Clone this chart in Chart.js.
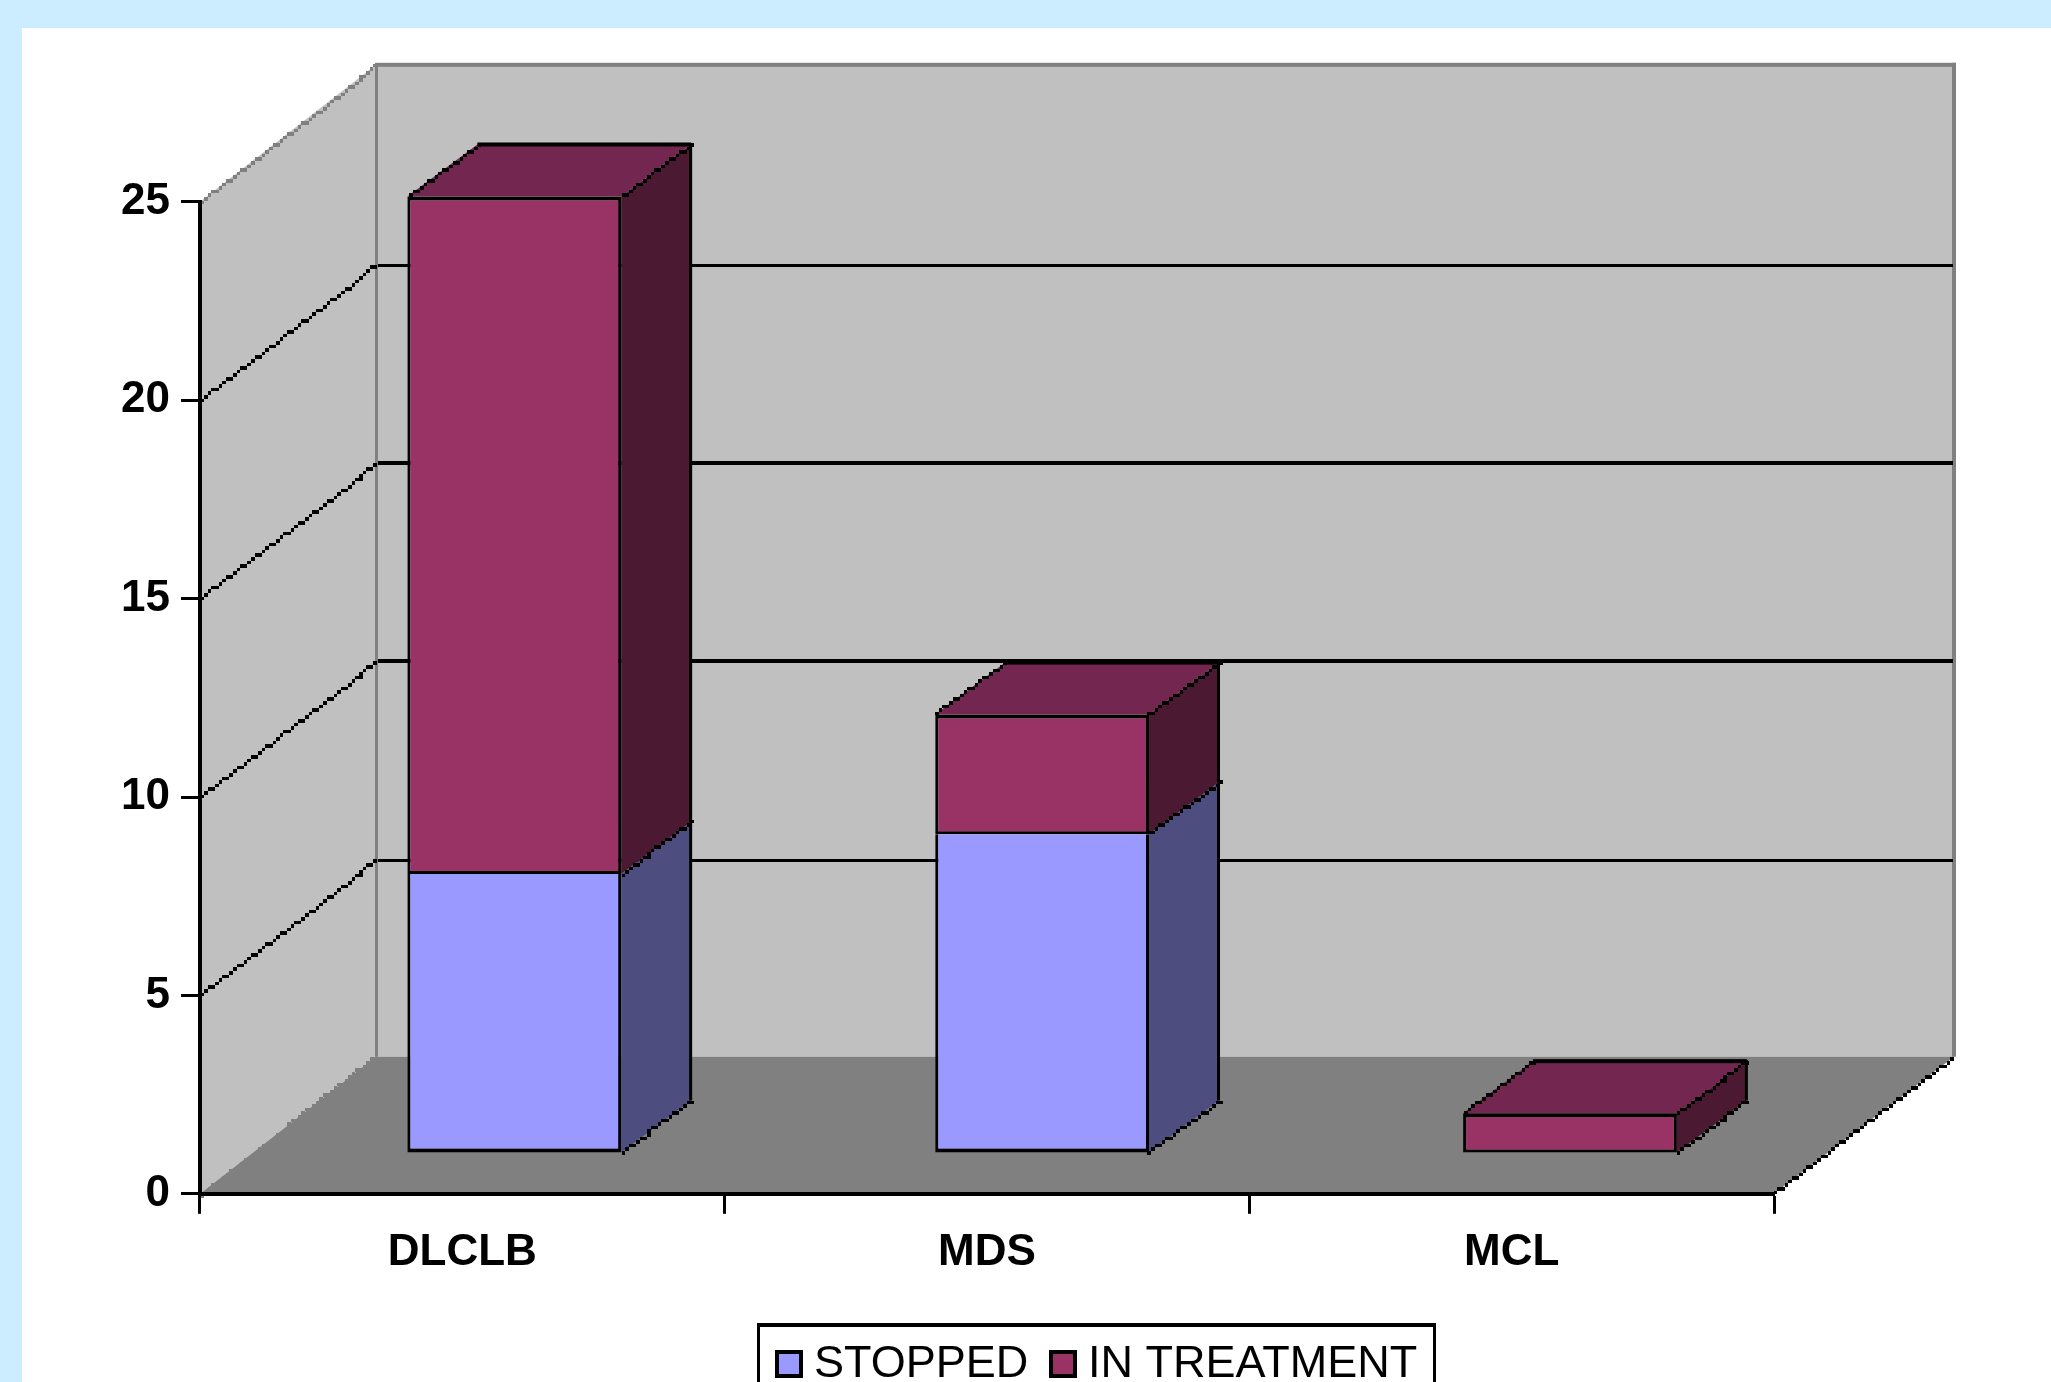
<!DOCTYPE html>
<html>
<head>
<meta charset="utf-8">
<title>Patients by diagnosis</title>
<style>
  html, body { margin: 0; padding: 0; background: #CCECFF; }
  canvas { display: block; }
</style>
<script src="https://cdn.jsdelivr.net/npm/chart.js@4/dist/chart.umd.min.js"></script>
</head>
<body>
<canvas id="chart" width="2051" height="1382"></canvas>
<script>
// Patient counts per diagnosis, stacked by treatment status.
const categories = ['DLCLB', 'MDS', 'MCL'];
const stopped = [7, 8, 0];
const inTreatment = [17, 3, 1];
const seriesNames = ['STOPPED', 'IN TREATMENT'];
const axisMax = 25;
const axisStep = 5;

const FONT = '"Liberation Sans", Arial, sans-serif';
const BLUE = '#9999FF', PLUM = '#993366';
const SIDE = { [BLUE]: '#4D4D80', [PLUM]: '#4C1933' };
const TOP_FACE = '#732650';
const WALL = '#C0C0C0', FLOOR = '#808080', EDGE = '#808080';

// Projection of the box: the back wall sits up and to the right of the front plane.
const WALL_DX = 176, WALL_DY = -137, GRID_DY = -136;
// The bars stand in a plane inside the box, mapped from the front plane.
const BAR_SX = 1.0061, BAR_TX = 49.1;
const BAR_SY = 1.0044, BAR_TY = 1153 - 1.0044 * 1193.8;
const BOX_DX = 70, BOX_DY = -52;
const CELL = 3.6;
const planeX = x => BAR_SX * x + BAR_TX;
const planeY = y => BAR_SY * y + BAR_TY;

// Draws a diagonal as a one-cell-wide pixel staircase.
function stair(ctx, x0, y0, x1, y1, color) {
  const dx = x1 - x0, dy = y1 - y0;
  const n = Math.ceil(Math.max(Math.abs(dx), Math.abs(dy)) / CELL);
  ctx.fillStyle = color;
  for (let i = 0; i <= n; i++) {
    const cx = Math.round((x0 + dx * i / n) / CELL);
    const cy = Math.round((y0 + dy * i / n) / CELL);
    const gx = Math.round(cx * CELL), gy = Math.round(cy * CELL);
    ctx.fillRect(gx - 1, gy - 1, Math.round((cx + 1) * CELL) - gx, Math.round((cy + 1) * CELL) - gy);
  }
}

function poly(ctx, pts, color) {
  ctx.beginPath();
  pts.forEach((p, i) => i ? ctx.lineTo(p[0], p[1]) : ctx.moveTo(p[0], p[1]));
  ctx.closePath();
  ctx.fillStyle = color;
  ctx.fill();
}

const box3d = {
  id: 'box3d',
  beforeDraw(chart) {
    const { ctx, chartArea: a, scales: { y } } = chart;
    const backL = a.left + WALL_DX, backR = a.right + 180;
    const backT = y.getPixelForValue(axisMax) + WALL_DY;
    const backB = a.bottom + WALL_DY;
    ctx.save();
    ctx.fillStyle = '#CCECFF';
    ctx.fillRect(0, 0, chart.width, chart.height);
    ctx.fillStyle = '#FFFFFF';
    ctx.fillRect(22, 28, chart.width - 22, chart.height - 28);

    // Back wall, side wall, floor
    ctx.fillStyle = WALL;
    ctx.fillRect(backL, backT, backR - backL, backB - backT);
    poly(ctx, [[a.left, a.bottom], [a.left, a.top], [backL, backT], [backL, backB]], WALL);
    poly(ctx, [[a.left, a.bottom], [a.right, a.bottom], [backR, backB], [backL, backB]], FLOOR);
    stair(ctx, a.left, a.bottom, backL, backB, FLOOR);

    // Wall outline
    ctx.fillStyle = EDGE;
    ctx.fillRect(backL - 1, backT - 2, backR - backL + 3, 4);
    ctx.fillRect(backR - 2, backT - 2, 4, backB - backT + 2);
    ctx.fillRect(backL - 1, backT, 3, backB - backT);
    stair(ctx, a.left + 2, a.top - 1, backL, backT + 1, EDGE);

    // Gridlines across both walls, placed from the value axis
    y.ticks.forEach(t => {
      if (t.value === 0 || t.value === axisMax) return;
      const fy = y.getPixelForValue(t.value);
      const by = Math.round(fy + GRID_DY);
      const heavy = t.value === 10 || t.value === 15;
      stair(ctx, a.left + 2, fy - 2, backL, by + 1, '#000000');
      ctx.fillStyle = '#000000';
      ctx.fillRect(backL + 2, by - (heavy ? 2 : 0), backR - backL - 3, heavy ? 4 : 3);
    });
    stair(ctx, a.right + 2, a.bottom - 2, backR - 2, backB + 2, '#000000');
    ctx.restore();
  },
  beforeDatasetsDraw(chart) {
    const { ctx } = chart;
    const metas = chart.getSortedVisibleDatasetMetas();
    ctx.save();
    metas.forEach((meta, d) => {
      const color = chart.data.datasets[meta.index].backgroundColor;
      meta.data.forEach(el => {
        if (Math.abs(el.base - el.y) < 1) return;
        const l = planeX(el.x - el.width / 2);
        const r = planeX(el.x + el.width / 2);
        const t = planeY(el.y), b = planeY(el.base);
        const xb = r + BOX_DX;
        // Right-hand face
        poly(ctx, [[r, t], [xb, t + BOX_DY], [xb, b + BOX_DY], [r, b]], SIDE[color]);
        ctx.fillStyle = '#000000';
        ctx.fillRect(xb - 2, t + BOX_DY - 1, 3, b - t + 1);
        stair(ctx, r + 1, b - 1, xb, b + BOX_DY, '#000000');
        // Top face closes the column on the last stacked series
        if (d === metas.length - 1) {
          poly(ctx, [[l, t], [r, t], [xb, t + BOX_DY], [l + BOX_DX, t + BOX_DY]], TOP_FACE);
          ctx.fillStyle = '#000000';
          ctx.fillRect(l + BOX_DX, t + BOX_DY - 2, xb - l - BOX_DX, 4);
          stair(ctx, l + 2, t - 2, l + BOX_DX, t + BOX_DY, '#000000');
          stair(ctx, r + 1, t - 1, xb, t + BOX_DY, '#000000');
        }
      });
    });
    ctx.restore();
    // Front faces are drawn by the bar controller in the inner plane
    ctx.save();
    ctx.translate(BAR_TX, BAR_TY);
    ctx.scale(BAR_SX, BAR_SY);
  },
  afterDatasetsDraw(chart) {
    chart.ctx.restore();
  },
  afterDraw(chart) {
    // Framed legend under the plot, built from the dataset labels and colours
    const { ctx } = chart;
    ctx.save();
    ctx.strokeStyle = '#000000';
    ctx.lineWidth = 3;
    ctx.strokeRect(758.5, 1325, 676, 80);
    ctx.fillStyle = '#000000';
    ctx.fillRect(757, 1323, 679, 4);
    const swatchX = [775, 1049], textX = [814, 1088];
    chart.data.datasets.forEach((ds, i) => {
      ctx.fillStyle = '#000000';
      ctx.fillRect(swatchX[i], 1350, 28, 28);
      ctx.fillStyle = ds.backgroundColor;
      ctx.fillRect(swatchX[i] + 4, 1354, 20, 20);
      ctx.fillStyle = '#000000';
      ctx.font = '45px ' + FONT;
      ctx.textAlign = 'left';
      ctx.textBaseline = 'alphabetic';
      ctx.fillText(ds.label, textX[i], 1377);
    });
    ctx.restore();
  }
};

const barStyle = { barPercentage: 0.405, categoryPercentage: 1, borderColor: '#000000',
  borderSkipped: false, inflateAmount: 0, clip: false };

new Chart(document.getElementById('chart'), {
  type: 'bar',
  data: {
    labels: categories,
    datasets: [
      { label: seriesNames[0], data: stopped, backgroundColor: BLUE,
        borderWidth: { top: 0, left: 3, right: 3, bottom: 4 }, ...barStyle },
      { label: seriesNames[1], data: inTreatment, backgroundColor: PLUM,
        borderWidth: { top: 4, left: 3, right: 3, bottom: 3 }, ...barStyle }
    ]
  },
  plugins: [box3d],
  options: {
    responsive: false,
    animation: false,
    layout: { padding: { left: 0, right: 277, top: 201.8, bottom: 0 } },
    plugins: { legend: { display: false }, tooltip: { enabled: false }, title: { display: false } },
    scales: {
      x: {
        stacked: true,
        offset: true,
        grid: { offset: true, drawOnChartArea: false, drawTicks: true, tickLength: 20, tickWidth: 3, tickColor: '#000000' },
        border: { color: '#000000', width: 4 },
        ticks: { color: '#000000', font: { family: FONT, size: 44, weight: 'bold' }, padding: 13, maxRotation: 0 },
        afterFit(scale) { scale.height = 188.2; }
      },
      y: {
        stacked: true,
        min: 0,
        max: axisMax,
        grid: { drawOnChartArea: false, drawTicks: true, tickLength: 19, tickWidth: 3, tickColor: '#000000' },
        border: { color: '#000000', width: 4 },
        ticks: { stepSize: axisStep, color: '#000000', font: { family: FONT, size: 44, weight: 'bold' }, padding: 11 },
        afterFit(scale) { scale.width = 200; }
      }
    }
  }
});
</script>
</body>
</html>
